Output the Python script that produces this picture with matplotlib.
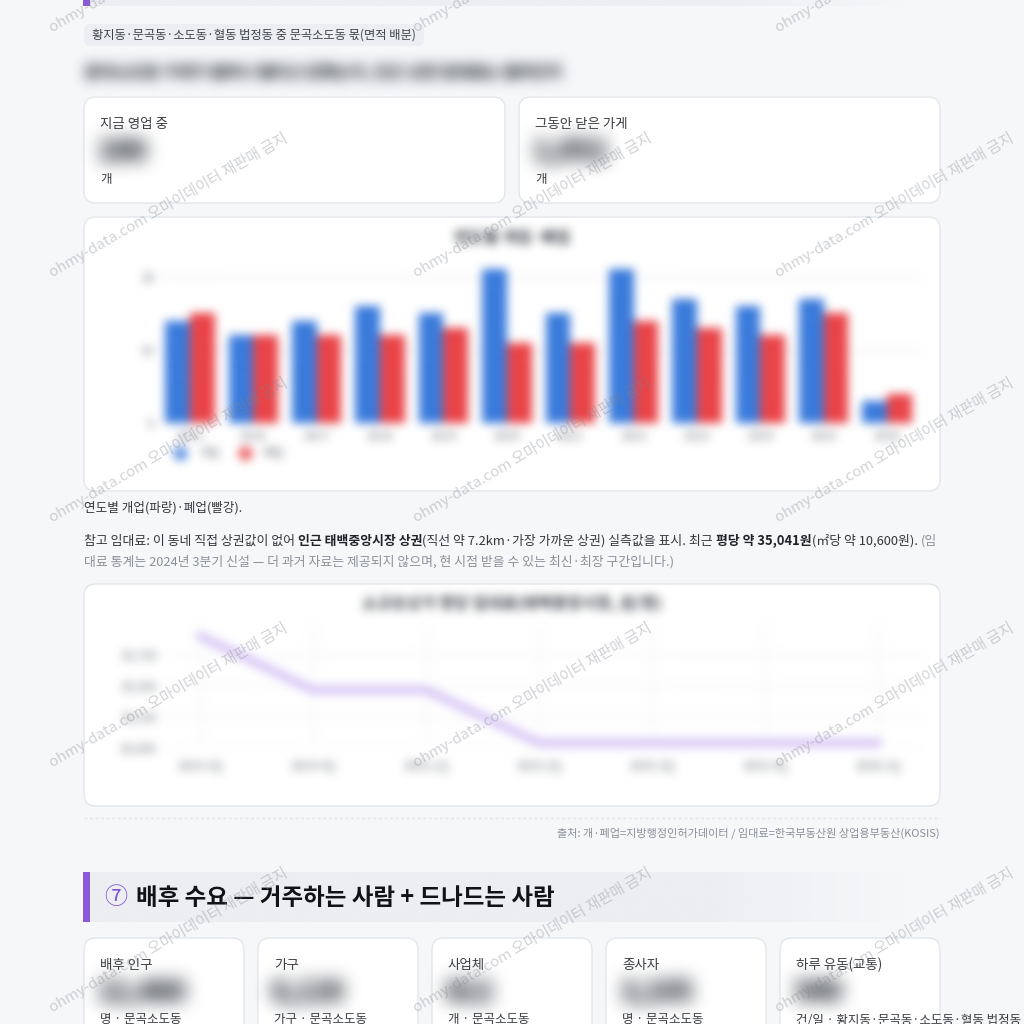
import numpy as np
import matplotlib
matplotlib.use('Agg')
import matplotlib.pyplot as plt
from matplotlib.patches import FancyBboxPatch, Rectangle

FONT = ['Noto Sans CJK KR', 'DejaVu Sans']
plt.rcParams['font.family'] = FONT

# ---------------- data ----------------
years = ['2015', '2016', '2017', '2018', '2019', '2020', '2021', '2022', '2023', '2024', '2025', '2026']
opened = [14, 12, 14, 16, 15, 21, 15, 21, 17, 16, 17, 3]
closed = [15, 12, 12, 12, 13, 11, 11, 14, 13, 12, 15, 4]
bar_yticks = [0, 10, 20]

rent_quarters = ['2024.3Q', '2024.4Q', '2025.1Q', '2025.2Q', '2025.3Q', '2025.4Q', '2026.1Q']
rent_per_pyeong = [35903, 35468, 35468, 35041, 35041, 35041, 35041]
rent_yticks = [35000, 35250, 35500, 35750]

top_cards = ['지금 영업 중', '그동안 닫은 가게']
top_values = ['186', '1,052']
top_units = ['개', '개']

bottom_labels = ['배후 인구', '가구', '사업체', '종사자', '하루 유동(교통)']
bottom_values = ['12,480', '6,120', '812', '3,105', '540']
bottom_units = ['명 · 문곡소도동', '가구 · 문곡소도동', '개 · 문곡소도동', '명 · 문곡소도동',
                '건/일 · 황지동·문곡동·소도동·혈동 법정동 합']

PX = 0.72  # px -> pt at dpi 100


# ---------------- blur filter ----------------
def _box(a, r, axis):
    n = a.shape[axis]
    c = np.cumsum(a, axis=axis)
    zs = list(a.shape)
    zs[axis] = 1
    c = np.concatenate([np.zeros(zs), c], axis=axis)
    idx = np.arange(n)
    hi = np.clip(idx + r + 1, 0, n)
    lo = np.clip(idx - r, 0, n)
    return (np.take(c, hi, axis=axis) - np.take(c, lo, axis=axis)) / (2 * r + 1)


class Blur:
    def __init__(self, sigma, gain=1.0):
        self.sigma = sigma
        self.gain = gain

    def __call__(self, im, dpi):
        s = self.sigma
        pad = int(np.ceil(3.2 * s)) + 2
        a = np.pad(im, ((pad, pad), (pad, pad), (0, 0)))
        al = a[..., 3:4]
        pre = np.concatenate([a[..., :3] * al, al], axis=2)
        r = max(1, int(round((np.sqrt(4 * s * s + 1) - 1) / 2)))
        for _ in range(3):
            pre = _box(pre, r, 0)
            pre = _box(pre, r, 1)
        al2 = pre[..., 3:4]
        rgb = pre[..., :3] / np.maximum(al2, 1e-6)
        out = np.concatenate([np.clip(rgb, 0, 1), np.clip(al2 * self.gain, 0, 1)], axis=2)
        return out, -pad, -pad


# ---------------- page ----------------
W = H = 1024
fig = plt.figure(figsize=(10.24, 10.24), dpi=100)
fig.patch.set_facecolor('#f6f7f9')
bg = fig.add_axes([0, 0, 1, 1], zorder=0)
bg.set_xlim(0, W)
bg.set_ylim(H, 0)
bg.axis('off')
renderer = fig.canvas.get_renderer()


def card(x0, y0, x1, y1, r=12, fc='white', ec='#e3e6eb'):
    p = FancyBboxPatch((x0, y0), x1 - x0, y1 - y0,
                       boxstyle=f'round,pad=0,rounding_size={r}',
                       fc=fc, ec=ec, lw=1.0, zorder=1)
    bg.add_patch(p)


def txt(x, y, s, px, color='#333333', weight='normal', ha='left', **kw):
    return bg.text(x, y, s, fontsize=px * PX, color=color, fontweight=weight,
                   ha=ha, va='center', zorder=3, **kw)


def width_of(s, px, weight='normal'):
    t = bg.text(0, 0, s, fontsize=px * PX, fontweight=weight)
    w = t.get_window_extent(renderer).width
    t.remove()
    return w


def segs(x, y, parts, px):
    sp = width_of('가 가', px) - width_of('가가', px)
    for s, w, c in parts:
        lead = len(s) - len(s.lstrip(' '))
        trail = len(s) - len(s.rstrip(' '))
        core = s.strip(' ')
        x += lead * sp
        t = txt(x, y, core, px, color=c, weight=w)
        x += t.get_window_extent(renderer).width + trail * sp
    return x


def header_band(y0, y1):
    bg.add_patch(Rectangle((83, y0), 7, y1 - y0, fc='#8a5ad8', ec='none', zorder=2))
    n = 400
    grad = np.ones((1, n, 4))
    grad[..., :3] = np.array([0xec, 0xee, 0xf2]) / 255
    xs = np.linspace(0, 1, n)
    grad[0, :, 3] = np.clip((1 - xs) / 0.25, 0, 1)
    bg.imshow(grad, extent=(90, 905, y1, y0), aspect='auto', interpolation='bilinear', zorder=1)


# previous section header (cut at top)
header_band(-44, 6)

# chip
bg.add_patch(FancyBboxPatch((84, 24), 340, 22, boxstyle='round,pad=0,rounding_size=6',
                            fc='#eceef4', ec='none', zorder=1))
txt(92, 35, '황지동·문곡동·소도동·혈동 법정동 중 문곡소도동 몫(면적 배분)', 12.3, color='#40444b')

# blurred lead sentence
txt(85, 72, '문곡소도동 가게가 얼마나 열리고 닫혔는지, 인근 상권 임대료는 얼마인지', 16,
    color='#70747b', weight='heavy', agg_filter=Blur(6, gain=1.9))

# top stat cards
for i, (lab, val, unit) in enumerate(zip(top_cards, top_values, top_units)):
    x0 = 84 + i * 435
    card(x0, 97, x0 + 421, 203)
    txt(x0 + 16, 124, lab, 13.5, color='#3a3d42')
    txt(x0 + 14, 152, val, 28, color='#85888e', weight='heavy', agg_filter=Blur(8, gain=2.4))
    txt(x0 + 16, 180, unit, 12.5, color='#3a3d42')

# bar chart card
card(84, 217, 940, 491)
txt(84, 508, '연도별 개업(파랑)·폐업(빨강).', 12.6, color='#33363b')

# rent paragraph
P = 12.9
segs(84, 541, [
    ('참고 임대료: 이 동네 직접 상권값이 없어 ', 'normal', '#33363b'),
    ('인근 태백중앙시장 상권', 'bold', '#1f2226'),
    ('(직선 약 7.2km·가장 가까운 상권) 실측값을 표시. 최근 ', 'normal', '#33363b'),
    ('평당 약 35,041원', 'bold', '#1f2226'),
    ('(㎡당 약 10,600원). ', 'normal', '#33363b'),
    ('(임', 'normal', '#8b9099'),
], P)
txt(84, 562, '대료 통계는 2024년 3분기 신설 — 더 과거 자료는 제공되지 않으며, 현 시점 받을 수 있는 최신·최장 구간입니다.)',
    P, color='#8b9099')

# line chart card
card(84, 584, 940, 806)

# separator + source
bg.plot([84, 940], [818, 818], color='#e2e4e9', lw=1, ls=(0, (2, 2)), zorder=1)
txt(940, 833, '출처: 개·폐업=지방행정인허가데이터 / 임대료=한국부동산원 상업용부동산(KOSIS)', 11.1,
    color='#8b9099', ha='right')

# section 7 header
header_band(872, 922)
xe = segs(104, 898, [('⑦', 'normal', '#7d4fd6')], 23)
txt(xe + 9, 898, '배후 수요 — 거주하는 사람 + 드나드는 사람', 23.5, color='#111318', weight='heavy')

# bottom cards
for i, (lab, val, unit) in enumerate(zip(bottom_labels, bottom_values, bottom_units)):
    x0 = 84 + i * 174
    card(x0, 938, x0 + 160, 1060)
    txt(x0 + 16, 965, lab, 13.5, color='#3a3d42')
    txt(x0 + 14, 993, val, 27, color='#85888e', weight='heavy', agg_filter=Blur(8, gain=2.4))
    txt(x0 + 16, 1020, unit, 12.5, color='#3a3d42')

bg.set_xlim(0, W)
bg.set_ylim(H, 0)


# ---------------- bar chart ----------------
def fig_rect(l, t, r, b):
    return [l / W, 1 - b / H, (r - l) / W, (b - t) / H]


BLUE = '#3a7bdc'
RED = '#ea4448'
TICKC = '#6f747c'
ax1 = fig.add_axes(fig_rect(160, 262, 922, 423), zorder=2)
ax1.patch.set_visible(False)
x = np.arange(len(years))
bw = 0.39
ax1.bar(x - bw / 2, opened, bw, color=BLUE, zorder=2)
ax1.bar(x + bw / 2, closed, bw, color=RED, zorder=2)
ax1.set_yticks(bar_yticks)
ax1.set_xticks(x)
ax1.set_xticklabels(years)
ax1.tick_params(axis='both', length=0, labelsize=12 * PX, colors=TICKC)
ax1.tick_params(axis='x', pad=5)
ax1.tick_params(axis='y', pad=4)
ax1.grid(axis='y', color='#ececf0', lw=1, zorder=0)
for s in ax1.spines.values():
    s.set_visible(False)
ax1.text(512, 238, '연도별 개업·폐업', transform=bg.transData, ha='center', va='center',
         fontsize=16 * PX, fontweight='bold', color='#3e424a', clip_on=False)
ax1.plot([180], [453], 'o', ms=13 * PX, color=BLUE, alpha=0.8, transform=bg.transData, clip_on=False)
ax1.text(198, 453, '개업', transform=bg.transData, ha='left', va='center', fontsize=12 * PX,
         color=TICKC, clip_on=False)
ax1.plot([245], [453], 'o', ms=13 * PX, color=RED, alpha=0.8, transform=bg.transData, clip_on=False)
ax1.text(263, 453, '폐업', transform=bg.transData, ha='left', va='center', fontsize=12 * PX,
         color=TICKC, clip_on=False)
ax1.set_xlim(-0.473, 11.55)
ax1.set_ylim(0, 22)
ax1.set_agg_filter(Blur(4.2))

# ---------------- line chart ----------------
ax2 = fig.add_axes(fig_rect(168, 625, 922, 748), zorder=2)
ax2.patch.set_visible(False)
xq = np.arange(len(rent_quarters))
ax2.plot(xq, rent_per_pyeong, color='#d6c5f6', lw=8.5 * PX, solid_capstyle='round',
         solid_joinstyle='round', zorder=3)
ax2.set_xlim(-0.283, 6.389)
ax2.set_ylim(35000, 35992)
ax2.set_yticks(rent_yticks)
ax2.set_yticklabels([f'{v:,}' for v in rent_yticks])
ax2.set_xticks(xq)
ax2.set_xticklabels(rent_quarters)
ax2.tick_params(axis='both', length=0, labelsize=12 * PX, colors=TICKC)
ax2.tick_params(axis='x', pad=8)
ax2.tick_params(axis='y', pad=8)
ax2.grid(True, color='#f2f3f5', lw=1, zorder=0)
for s in ax2.spines.values():
    s.set_visible(False)
ax2.text(512, 603, '소규모상가 평당 임대료(태백중앙시장, 원/평)', transform=bg.transData,
         ha='center', va='center', fontsize=16 * PX, fontweight='bold', color='#3e424a',
         clip_on=False)
ax2.set_agg_filter(Blur(4.2))

# ---------------- watermark overlay ----------------
ov = fig.add_axes([0, 0, 1, 1], zorder=10)
ov.set_xlim(0, W)
ov.set_ylim(H, 0)
ov.axis('off')
for yy in [32, 277, 522, 767, 1012]:
    for xx in [53, 416, 779]:
        ov.text(xx, yy, 'ohmy-data.com 오마이데이터 재판매 금지', rotation=30, rotation_mode='anchor',
                ha='left', va='baseline', fontsize=15 * PX, color='#7f838c', alpha=0.36,
                clip_on=False)

fig.savefig('out.png', dpi=100, facecolor=fig.get_facecolor())
